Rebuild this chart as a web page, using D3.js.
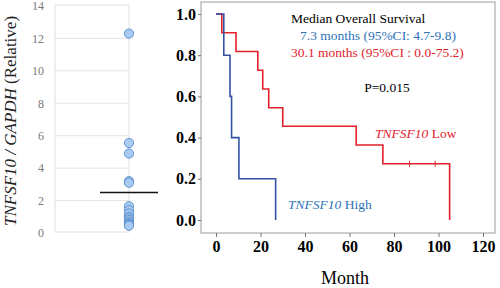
<!DOCTYPE html>
<html>
<head>
<meta charset="utf-8">
<script src="https://cdn.jsdelivr.net/npm/d3@7"></script>
<style>
  body { margin: 0; background: #fff; }
  svg { display: block; font-family: "Liberation Serif", "Times New Roman", serif; }
</style>
</head>
<body>
<div id="chart"></div>
<script>
// left panel: expression values
var exprValues = [12.3, 5.55, 4.9, 3.2, 3.1, 1.65, 1.4, 1.2, 1.0, 0.9, 0.8, 0.7, 0.6, 0.55, 0.5, 0.45];
var exprMedian = 2.5;
var exprTicks = [0, 2, 4, 6, 8, 10, 12, 14];

// right panel: Kaplan-Meier steps
var highTimes = [0, 3.5, 6.3, 7, 10.3, 26.8];
var highSurv = [1, 0.8, 0.6, 0.4, 0.2, 0];
var lowTimes = [0, 2.6, 9, 18.8, 21, 23.7, 30, 63, 75, 105];
var lowSurv = [1, 0.909, 0.818, 0.727, 0.636, 0.545, 0.455, 0.364, 0.273, 0];
var lowCensorTimes = [87, 98.5];
var lowCensorSurv = [0.273, 0.273];
var monthTicks = [0, 20, 40, 60, 80, 100, 120];
var survTicks = [0, 0.2, 0.4, 0.6, 0.8, 1.0];

var width = 500, height = 288;
var red = '#e3212b', blueLine = '#3352a3', blueText = '#2e72b8';

var svg = d3.select('#chart').append('svg')
  .attr('width', width)
  .attr('height', height);

// ---------- left panel ----------
var yL = d3.scaleLinear().domain([0, 14]).range([233, 6]);

svg.append('g')
  .selectAll('line')
  .data(exprTicks.slice(1, -1))
  .enter()
  .append('line')
  .attr('x1', 55).attr('x2', 129)
  .attr('y1', function(d) { return yL(d); })
  .attr('y2', function(d) { return yL(d); })
  .attr('stroke', '#e4e4e4');

svg.append('rect')
  .attr('x', 55).attr('y', 5)
  .attr('width', 74).attr('height', 227)
  .attr('fill', 'none')
  .attr('stroke', '#e0e0e0');

var yLAxis = d3.axisLeft(yL).tickValues(exprTicks).tickSize(0).tickPadding(0);
var gL = svg.append('g')
  .attr('transform', 'translate(44,0)')
  .call(yLAxis);
gL.select('.domain').remove();
gL.selectAll('text')
  .attr('fill', '#7a7a7a')
  .style('font-size', '12px')
  .style('font-family', '"Liberation Serif", serif');

svg.append('g')
  .selectAll('circle')
  .data(exprValues)
  .enter()
  .append('circle')
  .attr('cx', 129)
  .attr('cy', function(d) { return yL(d); })
  .attr('r', 4.6)
  .attr('fill', '#a9cbf2')
  .attr('stroke', '#5f93d3')
  .attr('stroke-width', 1);

svg.append('line')
  .attr('x1', 100).attr('x2', 158)
  .attr('y1', yL(exprMedian)).attr('y2', yL(exprMedian))
  .attr('stroke', '#111')
  .attr('stroke-width', 1.6);

var ylab = svg.append('text')
  .attr('transform', 'translate(16,121) rotate(-90)')
  .attr('text-anchor', 'middle')
  .style('font-size', '17px')
  .attr('fill', '#222');
ylab.append('tspan').style('font-style', 'italic').text('TNFSF10 / GAPDH');
ylab.append('tspan').text(' (Relative)');

// ---------- right panel ----------
var x = d3.scaleLinear().domain([0, 120]).range([216, 483]);
var y = d3.scaleLinear().domain([0, 1]).range([220, 14]);

svg.append('rect')
  .attr('x', 201).attr('y', 2)
  .attr('width', 294).attr('height', 231)
  .attr('fill', 'none')
  .attr('stroke', '#9a9a9a');

var xAxis = d3.axisBottom(x).tickValues(monthTicks).tickSize(4).tickPadding(4);
var gx = svg.append('g')
  .attr('transform', 'translate(0,233)')
  .call(xAxis);
gx.select('.domain').remove();

var yAxis = d3.axisLeft(y).tickValues(survTicks).tickFormat(d3.format('.1f')).tickSize(3).tickPadding(2);
var gy = svg.append('g')
  .attr('transform', 'translate(201,0)')
  .call(yAxis);
gy.select('.domain').remove();

svg.selectAll('.tick line').attr('stroke', '#777');
gx.selectAll('text').style('font-size', '16px').style('font-weight', 'bold')
  .style('font-family', '"Liberation Serif", serif').attr('fill', '#000');
gy.selectAll('text').style('font-size', '16px').style('font-weight', 'bold')
  .style('font-family', '"Liberation Serif", serif').attr('fill', '#000');

var step = d3.line()
  .x(function(d) { return x(d[0]); })
  .y(function(d) { return y(d[1]); })
  .curve(d3.curveStepAfter);

svg.append('path')
  .attr('d', step(d3.zip(lowTimes, lowSurv)))
  .attr('fill', 'none')
  .attr('stroke', red)
  .attr('stroke-width', 1.6);

svg.append('path')
  .attr('d', step(d3.zip(highTimes, highSurv)))
  .attr('fill', 'none')
  .attr('stroke', blueLine)
  .attr('stroke-width', 1.6);

svg.append('g')
  .selectAll('line')
  .data(d3.zip(lowCensorTimes, lowCensorSurv))
  .enter()
  .append('line')
  .attr('x1', function(d) { return x(d[0]); })
  .attr('x2', function(d) { return x(d[0]); })
  .attr('y1', function(d) { return y(d[1]) - 3; })
  .attr('y2', function(d) { return y(d[1]) + 3; })
  .attr('stroke', red)
  .attr('stroke-width', 1);

svg.append('text')
  .attr('x', 345).attr('y', 284)
  .attr('text-anchor', 'middle')
  .style('font-size', '18px')
  .text('Month');

// annotations
svg.append('text')
  .attr('x', 291).attr('y', 23)
  .style('font-size', '13.5px')
  .text('Median Overall Survival');
svg.append('text')
  .attr('x', 300).attr('y', 40)
  .style('font-size', '13.5px')
  .attr('fill', blueText)
  .text('7.3 months (95%CI: 4.7-9.8)');
svg.append('text')
  .attr('x', 291).attr('y', 57)
  .style('font-size', '13.5px')
  .attr('fill', red)
  .text('30.1 months (95%CI : 0.0-75.2)');
svg.append('text')
  .attr('x', 387).attr('y', 92)
  .attr('text-anchor', 'middle')
  .style('font-size', '13.5px')
  .text('P=0.015');

var lowLab = svg.append('text')
  .attr('x', 375).attr('y', 138)
  .style('font-size', '13.5px')
  .attr('fill', red);
lowLab.append('tspan').style('font-style', 'italic').text('TNFSF10');
lowLab.append('tspan').text(' Low');

var highLab = svg.append('text')
  .attr('x', 288).attr('y', 209)
  .style('font-size', '13.5px')
  .attr('fill', blueText);
highLab.append('tspan').style('font-style', 'italic').text('TNFSF10');
highLab.append('tspan').text(' High');
</script>
</body>
</html>
